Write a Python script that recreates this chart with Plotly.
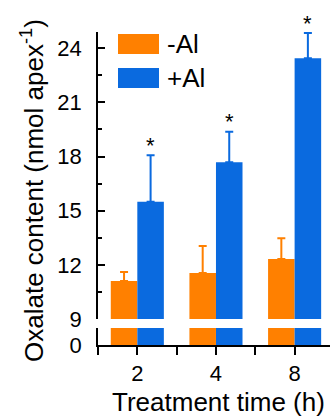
import plotly.graph_objects as go

# ---- data ----
times = ["2", "4", "8"]
series_names = ["-Al", "+Al"]
minus_al = [11.1, 11.55, 12.33]
minus_al_err = [0.5, 1.5, 1.15]
plus_al = [15.5, 17.68, 23.44]
plus_al_err = [2.57, 1.7, 1.4]
signif = ["*", "*", "*"]
y_ticks = [9, 12, 15, 18, 21, 24]
y_minor = [10.5, 13.5, 16.5, 19.5, 22.5]
lower_ticks = [0]

colors = ["#FF8000", "#0A6ADF"]
FONT = "Arial, Liberation Sans, sans-serif"

# ---- layout geometry (pixels) ----
FW, FH = 330, 419
L, R, T, B = 98, 330, 32, 345
W, H = R - L, B - T

def px_x(p):
    return (p - L) / W

def px_y(p):
    return (B - p) / H

xpos = list(range(len(times)))
values = [minus_al, plus_al]
errs = [minus_al_err, plus_al_err]

fig = go.Figure()
for yref in ["y", "y2"]:
    for name, vals, err, col in zip(series_names, values, errs, colors):
        fig.add_trace(go.Bar(
            x=xpos, y=vals, name=name, yaxis=yref, xaxis="x",
            marker=dict(color=col, line=dict(width=0)),
            error_y=dict(type="data", symmetric=False, array=err,
                         arrayminus=[0] * len(err), color=col,
                         thickness=2, width=4),
            showlegend=False, cliponaxis=True, hoverinfo="skip",
        ))

half_ticks = [i - 0.5 for i in xpos]

fig.update_layout(
    width=FW, height=FH,
    margin=dict(l=L, r=FW - R, t=T, b=FH - B, pad=0),
    plot_bgcolor="white", paper_bgcolor="white",
    barmode="group", bargap=0.325, bargroupgap=0,
    font=dict(family=FONT, color="black"),
    xaxis=dict(range=[-0.5, 2.45], tickvals=xpos, ticktext=times,
               ticks="outside", ticklen=8, tickwidth=1.5, tickcolor="black",
               minor=dict(tickvals=half_ticks, ticks="outside", ticklen=8,
                          tickwidth=1.5, tickcolor="black"),
               showline=True, linecolor="black", linewidth=1.5,
               showgrid=False, zeroline=False, anchor="y",
               tickfont=dict(size=22, family=FONT)),
    yaxis=dict(domain=[0, px_y(328)], range=[0, 9], tickvals=lower_ticks,
               ticks="", showline=True, linecolor="black", linewidth=1.5,
               showgrid=False, zeroline=False, anchor="x",
               ticklabelstandoff=10,
               tickfont=dict(size=22, family=FONT)),
    yaxis2=dict(domain=[px_y(319), 1], range=[9, 24.9], tickvals=y_ticks,
                ticks="inside", ticklen=7, tickwidth=1.5, tickcolor="black",
                minor=dict(tickvals=y_minor, ticks="inside", ticklen=4,
                           tickwidth=1.5, tickcolor="black"),
                showline=True, linecolor="black", linewidth=1.5,
                showgrid=False, zeroline=False, anchor="x",
                ticklabelstandoff=10,
                tickfont=dict(size=22, family=FONT)),
)

# significance stars above +Al bars
bw = (1 - 0.325) / 2
for i, (v, e, s) in enumerate(zip(plus_al, plus_al_err, signif)):
    fig.add_annotation(x=i + bw / 2, y=v + e, xref="x", yref="y2",
                       text=s, showarrow=False, yanchor="middle", yshift=10,
                       font=dict(size=22, family=FONT, color="black"))

# legend drawn as boxes + labels
leg_rows = [44, 78]
for name, col, cy in zip(series_names, colors, leg_rows):
    fig.add_shape(type="rect", xref="paper", yref="paper",
                  x0=px_x(118), x1=px_x(159), y0=px_y(cy + 10), y1=px_y(cy - 10),
                  fillcolor=col, line=dict(width=0))
    fig.add_annotation(x=px_x(165), y=px_y(cy), xref="paper", yref="paper",
                       text=name, showarrow=False, xanchor="left", yanchor="middle",
                       font=dict(size=26, family=FONT, color="black"))

# axis titles
fig.add_annotation(x=px_x(32), y=px_y(191), xref="paper", yref="paper",
                   text="Oxalate content (nmol apex<sup>-1</sup>)", textangle=-90,
                   showarrow=False, xanchor="center", yanchor="middle",
                   font=dict(size=26, family=FONT, color="black"))
fig.add_annotation(x=px_x(218), y=px_y(402), xref="paper", yref="paper",
                   text="Treatment time (h)", showarrow=False,
                   xanchor="center", yanchor="middle",
                   font=dict(size=26, family=FONT, color="black"))

fig.write_html("out.html",
               config={"displayModeBar": False},
               post_script="document.body.style.margin='0';"
                           "document.documentElement.style.overflow='hidden';")
